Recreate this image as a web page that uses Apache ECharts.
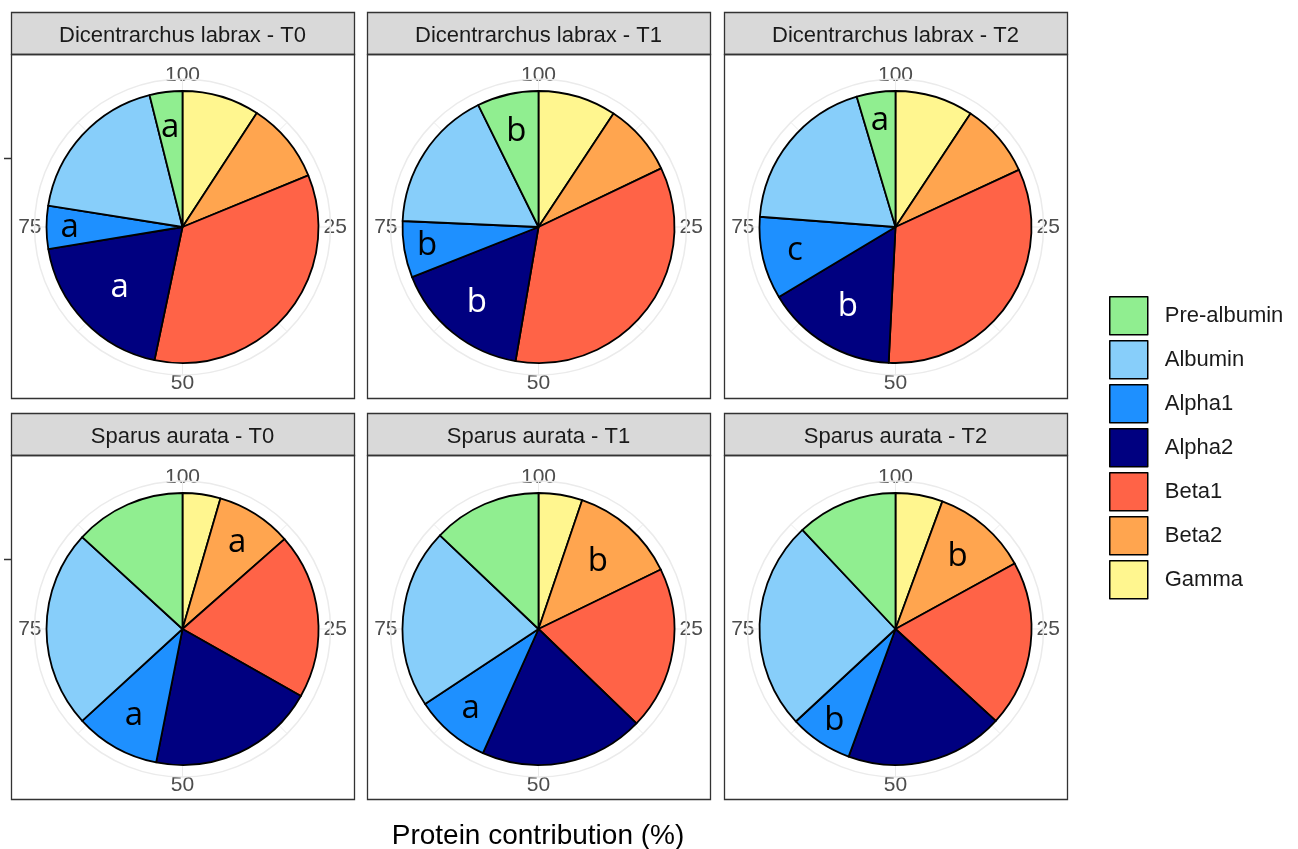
<!DOCTYPE html>
<html lang="en">
<head>
<meta charset="UTF-8">
<title>Protein contribution</title>
<script src="https://cdn.jsdelivr.net/npm/echarts@6/dist/echarts.min.js"></script>
</head>
<body style="margin:0;background:#fff;">
<div id="main" style="width:1298px;height:849px;"></div>
<script>
// legend order
var fractions = ['Pre-albumin', 'Albumin', 'Alpha1', 'Alpha2', 'Beta1', 'Beta2', 'Gamma'];
var colors = ['#90EE90', '#87CEFA', '#1E90FF', '#000080', '#FF6347', '#FFA54F', '#FFF68F'];

var panels = [
    'Dicentrarchus labrax - T0', 'Dicentrarchus labrax - T1', 'Dicentrarchus labrax - T2',
    'Sparus aurata - T0', 'Sparus aurata - T1', 'Sparus aurata - T2'
];

// % contribution, same order as fractions
var dlT0 = [3.9, 18.6, 5.1, 19.1, 34.5, 9.6, 9.2];
var dlT1 = [7.3, 17.0, 6.7, 16.3, 34.8, 8.6, 9.3];
var dlT2 = [4.6, 19.2, 9.8, 15.6, 32.7, 8.8, 9.3];
var saT0 = [13.2, 23.6, 10.1, 19.9, 19.7, 9.0, 4.5];
var saT1 = [12.9, 21.4, 9.0, 19.5, 19.4, 12.6, 5.2];
var saT2 = [12.0, 24.9, 7.5, 18.8, 19.8, 11.4, 5.6];
var values = [dlT0, dlT1, dlT2, saT0, saT1, saT2];

// significance letters per panel
var letters = [
    { 'Pre-albumin': 'a', 'Alpha1': 'a', 'Alpha2': 'a' },
    { 'Pre-albumin': 'b', 'Alpha1': 'b', 'Alpha2': 'b' },
    { 'Pre-albumin': 'a', 'Alpha1': 'c', 'Alpha2': 'b' },
    { 'Beta2': 'a', 'Alpha1': 'a' },
    { 'Beta2': 'b', 'Alpha1': 'a' },
    { 'Beta2': 'b', 'Alpha1': 'b' }
];
// radial position of the letters (fraction of pie radius)
var letterRadius = [
    { 'Pre-albumin': 0.74, 'Alpha1': 0.83, 'Alpha2': 0.64 },
    { 'Pre-albumin': 0.72, 'Alpha1': 0.83, 'Alpha2': 0.72 },
    { 'Pre-albumin': 0.79, 'Alpha1': 0.76, 'Alpha2': 0.68 },
    { 'Beta2': 0.75, 'Alpha1': 0.73 },
    { 'Beta2': 0.66, 'Alpha1': 0.77 },
    { 'Beta2': 0.70, 'Alpha1': 0.81 }
];

var FONT = '"Liberation Sans", Arial, sans-serif';
var colX = [11, 367, 724];
var rowY = [12, 413];
var boxW = 343, stripH = 42, plotH = 344;
var PIE_R = 136, RING_R = 148;

var chart = echarts.init(document.getElementById('main'));

var polar = [], angleAxis = [], radiusAxis = [], series = [], title = [], graphic = [];

panels.forEach(function (name, i) {
    var c = i % 3, r = Math.floor(i / 3);
    var cx = colX[c] + boxW / 2;
    var cy = rowY[r] + stripH + plotH / 2 + 1 + r;

    polar.push({ center: [cx, cy], radius: RING_R });
    angleAxis.push({
        polarIndex: i, type: 'value', min: 0, max: 100, interval: 12.5,
        startAngle: 90, clockwise: true,
        axisLine: { show: true, lineStyle: { color: '#EBEBEB', width: 1.5 } },
        axisTick: { show: false },
        splitLine: { show: true, lineStyle: { color: '#EBEBEB', width: 1 } },
        axisLabel: {
            margin: -7, color: '#4D4D4D', fontSize: 21, fontFamily: FONT,
            formatter: function (v) {
                if (v % 25 !== 0) return '';
                if (v === 50) return '{low|50}';
                return v === 0 ? '100' : String(v);
            },
            rich: { low: { fontSize: 21, fontFamily: FONT, color: '#4D4D4D', padding: [5, 0, 0, 0] } }
        }
    });
    radiusAxis.push({ polarIndex: i, type: 'value', min: 0, max: RING_R / PIE_R, show: false });

    // pie drawn clockwise from the top: Gamma first, Pre-albumin last
    var vals = values[i];
    var order = fractions.map(function (f, k) { return k; }).reverse();
    var total = vals.reduce(function (a, b) { return a + b; }, 0);
    var pieData = order.map(function (k) {
        return { name: fractions[k], value: vals[k], itemStyle: { color: colors[k] } };
    });
    series.push({
        type: 'pie', center: [cx, cy], radius: PIE_R, startAngle: 90, clockwise: true,
        silent: true, z: 3,
        label: { show: false }, labelLine: { show: false },
        itemStyle: { borderColor: '#000', borderWidth: 1.8 },
        data: pieData
    });

    // letters at the middle of each slice
    var cum = 0, letterData = [];
    order.forEach(function (k) {
        var f = fractions[k];
        var mid = (cum + vals[k] / 2) / total * 100;
        cum += vals[k];
        if (letters[i][f]) {
            letterData.push({
                name: letters[i][f],
                value: [letterRadius[i][f], mid],
                label: { color: f === 'Alpha2' ? '#FFFFFF' : '#000000' }
            });
        }
    });
    series.push({
        type: 'scatter', coordinateSystem: 'polar', polarIndex: i,
        symbolSize: 0, silent: true, z: 5,
        label: {
            show: true, position: 'inside', formatter: '{b}', fontSize: 33,
            fontFamily: '"Open Sans", sans-serif', textBorderWidth: 0, opacity: 1
        },
        data: letterData
    });

    // facet strip and panel border
    graphic.push({
        type: 'rect', z: 1,
        shape: { x: colX[c] + 0.5, y: rowY[r] + 0.5, width: boxW, height: stripH },
        style: { fill: '#D9D9D9', stroke: '#333333', lineWidth: 1.3 }
    });
    graphic.push({
        type: 'rect', z: 1,
        shape: { x: colX[c] + 0.5, y: rowY[r] + stripH + 0.5, width: boxW, height: plotH },
        style: { fill: null, stroke: '#333333', lineWidth: 1.3 }
    });
    title.push({
        text: name, left: cx, top: rowY[r] + 13, textAlign: 'center', padding: 0,
        textStyle: { fontSize: 22, fontWeight: 'normal', color: '#1A1A1A', fontFamily: FONT }
    });
});

// y axis ticks (no labels)
[158, 559].forEach(function (y) {
    graphic.push({
        type: 'line', shape: { x1: 4, y1: y + 0.5, x2: 11, y2: y + 0.5 },
        style: { stroke: '#333333', lineWidth: 1.5 }
    });
});

title.push({
    text: 'Protein contribution (%)', left: 538, top: 822, textAlign: 'center', padding: 0,
    textStyle: { fontSize: 28, fontWeight: 'normal', color: '#000', fontFamily: FONT }
});

var option = {
    animation: false,
    title: title,
    polar: polar,
    angleAxis: angleAxis,
    radiusAxis: radiusAxis,
    legend: {
        orient: 'vertical', left: 1109, top: 296, padding: 0,
        itemWidth: 38, itemHeight: 38, itemGap: 4.5, icon: 'rect',
        selectedMode: false,
        data: fractions,
        itemStyle: { borderColor: '#000', borderWidth: 1.5 },
        textStyle: { fontSize: 22, color: '#1A1A1A', fontFamily: FONT, padding: [0, 0, 0, 12] }
    },
    graphic: graphic,
    series: series
};

chart.setOption(option);
</script>
</body>
</html>
